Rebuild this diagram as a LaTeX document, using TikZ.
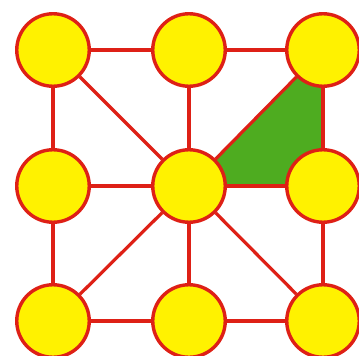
\documentclass[tikz,border=0pt]{standalone}
\usetikzlibrary{backgrounds}
\definecolor{dotyellow}{RGB}{255,242,0}
\definecolor{edgered}{RGB}{222,32,22}
\definecolor{patchgreen}{RGB}{78,172,32}
\begin{document}
\begin{tikzpicture}[x=1pt,y=-1pt,
  dot/.style={circle,draw=edgered,fill=dotyellow,line width=3.4pt,minimum size=72.5pt,inner sep=0pt},
  link/.style={draw=edgered,line width=3.2pt}]
\useasboundingbox (0,0) rectangle (359,356);
\node[dot] (a1) at (53,50) {};
\node[dot] (a2) at (189,50) {};
\node[dot] (a3) at (323,50) {};
\node[dot] (b1) at (53,186) {};
\node[dot] (b2) at (189,186) {};
\node[dot] (b3) at (323,186) {};
\node[dot] (c1) at (53,321) {};
\node[dot] (c2) at (189,321) {};
\node[dot] (c3) at (323,321) {};
\begin{scope}[on background layer]
\fill[patchgreen] (b2.center) -- (a3.center) -- (b3.center) -- cycle;
\draw[link] (a1) -- (a2);
\draw[link] (a2) -- (a3);
\draw[link] (b1) -- (b2);
\draw[link] (b2) -- (b3);
\draw[link] (c1) -- (c2);
\draw[link] (c2) -- (c3);
\draw[link] (a1) -- (b1);
\draw[link] (b1) -- (c1);
\draw[link] (a2) -- (b2);
\draw[link] (b2) -- (c2);
\draw[link] (a3) -- (b3);
\draw[link] (b3) -- (c3);
\draw[link] (a1) -- (b2);
\draw[link] (b2) -- (a3);
\draw[link] (b2) -- (c1);
\draw[link] (b2) -- (c3);
\end{scope}
\end{tikzpicture}
\end{document}
